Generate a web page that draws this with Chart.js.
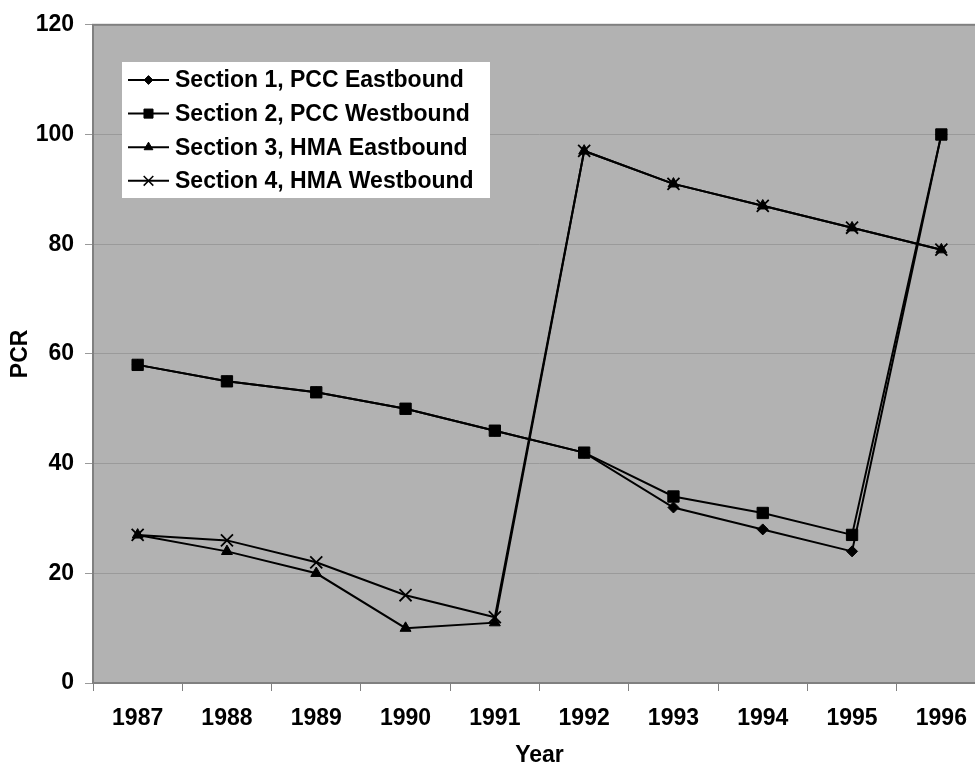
<!DOCTYPE html>
<html>
<head>
<meta charset="utf-8">
<script src="https://cdn.jsdelivr.net/npm/chart.js@4/dist/chart.umd.min.js"></script>
<style>
  html, body { margin: 0; padding: 0; background: #ffffff; overflow: hidden; }
  #wrap { width: 975px; height: 769px; overflow: hidden; position: relative; }
  canvas { display: block; }
</style>
</head>
<body>
<div id="wrap"><canvas id="chart" width="1000" height="769"></canvas></div>
<script>
// Pavement condition rating by year for the four test sections
const years = ['1987', '1988', '1989', '1990', '1991', '1992', '1993', '1994', '1995', '1996'];
const section1 = [58, 55, 53, 50, 46, 42, 32, 28, 24, 100];
const section2 = [58, 55, 53, 50, 46, 42, 34, 31, 27, 100];
const section3 = [27, 24, 20, 10, 11, 97, 91, 87, 83, 79];
const section4 = [27, 26, 22, 16, 12, 97, 91, 87, 83, 79];
const seriesNames = [
  'Section 1, PCC Eastbound',
  'Section 2, PCC Westbound',
  'Section 3, HMA Eastbound',
  'Section 4, HMA Westbound'
];
const yTicks = [0, 20, 40, 60, 80, 100, 120];

const FONT = "'Liberation Sans', Arial, sans-serif";

function series(label, data, style, radius, bw, order) {
  return {
    label, data,
    borderColor: '#000', backgroundColor: '#000',
    borderWidth: 2, tension: 0,
    pointStyle: style, pointRadius: radius, pointHoverRadius: radius,
    pointBackgroundColor: '#000', pointBorderColor: '#000',
    pointBorderWidth: bw, order
  };
}

// small marker routine for the legend samples
function marker(ctx, style, x, y, r) {
  ctx.save();
  ctx.fillStyle = '#000'; ctx.strokeStyle = '#000'; ctx.lineWidth = 1;
  ctx.beginPath();
  if (style === 'rectRot') {
    ctx.moveTo(x - r, y); ctx.lineTo(x, y - r); ctx.lineTo(x + r, y); ctx.lineTo(x, y + r);
    ctx.closePath(); ctx.fill(); ctx.stroke();
  } else if (style === 'rect') {
    const s = r * Math.SQRT1_2;
    ctx.rect(x - s, y - s, 2 * s, 2 * s); ctx.fill(); ctx.stroke();
  } else if (style === 'triangle') {
    const a = 2 * Math.PI / 3;
    ctx.moveTo(x, y - r);
    ctx.lineTo(x + Math.sin(a) * r, y - Math.cos(a) * r);
    ctx.lineTo(x + Math.sin(2 * a) * r, y - Math.cos(2 * a) * r);
    ctx.closePath(); ctx.fill(); ctx.stroke();
  } else {
    const o = r * Math.SQRT1_2;
    ctx.lineWidth = 1.5;
    ctx.moveTo(x - o, y - o); ctx.lineTo(x + o, y + o);
    ctx.moveTo(x - o, y + o); ctx.lineTo(x + o, y - o);
    ctx.stroke();
  }
  ctx.restore();
}

const plotFrame = {
  id: 'plotFrame',
  beforeDraw(chart) {
    const { ctx, chartArea: a } = chart;
    ctx.save();
    ctx.fillStyle = '#b2b2b2';
    ctx.fillRect(a.left, a.top, a.right - a.left, a.bottom - a.top);
    ctx.restore();
  },
  beforeDatasetsDraw(chart) {
    const { ctx, chartArea: a } = chart;
    ctx.save();
    ctx.strokeStyle = '#808080';
    ctx.lineWidth = 2;
    ctx.strokeRect(a.left, a.top, a.right - a.left, a.bottom - a.top);
    ctx.restore();
  }
};

const insetLegend = {
  id: 'insetLegend',
  afterDatasetsDraw(chart) {
    const ctx = chart.ctx;
    const bx = 122, by = 62, bw = 368, bh = 136;
    ctx.save();
    ctx.fillStyle = '#ffffff';
    ctx.fillRect(bx, by, bw, bh);
    ctx.font = 'bold 23px ' + FONT;
    ctx.textBaseline = 'middle';
    ctx.textAlign = 'left';
    chart.data.datasets.forEach((ds, i) => {
      const y = 80 + i * 33.6;
      ctx.strokeStyle = '#000'; ctx.lineWidth = 2;
      ctx.beginPath(); ctx.moveTo(128, y); ctx.lineTo(169, y); ctx.stroke();
      marker(ctx, ds.pointStyle, 148.5, y, ds.pointRadius * 0.8);
      ctx.fillStyle = '#000';
      ctx.fillText(ds.label, 175, y + 1);
    });
    ctx.restore();
  }
};

new Chart(document.getElementById('chart'), {
  type: 'line',
  data: {
    labels: years,
    datasets: [
      series(seriesNames[0], section1, 'rectRot', 5.5, 1, 4),
      series(seriesNames[1], section2, 'rect', 8, 1, 3),
      series(seriesNames[2], section3, 'triangle', 6.3, 1, 2),
      series(seriesNames[3], section4, 'crossRot', 8.5, 1.8, 1)
    ]
  },
  options: {
    responsive: false,
    animation: false,
    events: [],
    layout: { padding: { top: 20, right: 14, left: 0, bottom: 0 } },
    plugins: { legend: { display: false }, tooltip: { enabled: false } },
    scales: {
      x: {
        offset: true,
        grid: { display: true, offset: true, drawOnChartArea: false, drawTicks: true, tickLength: 8, color: '#808080' },
        border: { display: false },
        ticks: { color: '#000', font: { family: FONT, size: 23, weight: 'bold' }, padding: 14, maxRotation: 0, autoSkip: false },
        title: { display: true, text: 'Year', color: '#000', font: { family: FONT, size: 23, weight: 'bold' }, padding: { top: 0, bottom: 0 } },
        afterFit(s) { s.height = 86; }
      },
      y: {
        min: 0, max: 120,
        afterBuildTicks(s) { s.ticks = yTicks.map(v => ({ value: v })); },
        grid: { color: '#9a9a9a', lineWidth: 1, drawTicks: true, tickLength: 8, tickColor: '#9a9a9a' },
        border: { display: false },
        ticks: { color: '#000', font: { family: FONT, size: 23, weight: 'bold' }, padding: 11 },
        title: { display: true, text: 'PCR', color: '#000', font: { family: FONT, size: 23, weight: 'bold' }, padding: { top: 7, bottom: 0 } },
        afterFit(s) { s.width = 93; }
      }
    }
  },
  plugins: [plotFrame, insetLegend]
});
</script>
</body>
</html>
